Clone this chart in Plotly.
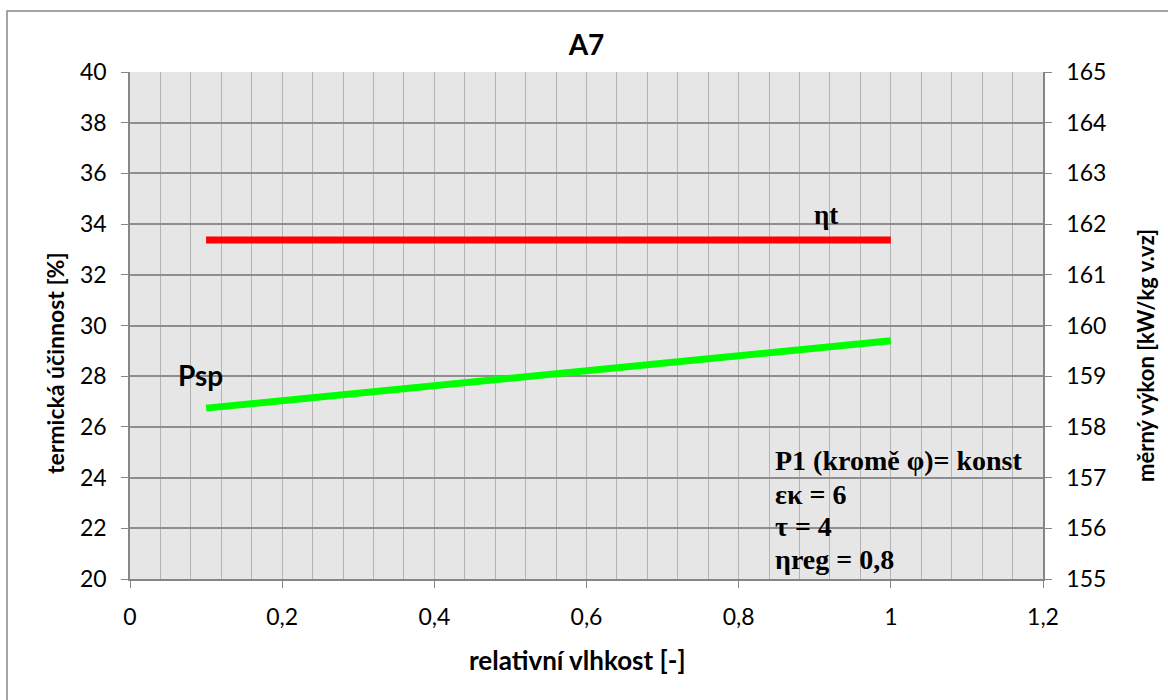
import plotly.graph_objects as go

# Data
phi = [0.1, 0.2, 0.3, 0.4, 0.5, 0.6, 0.7, 0.8, 0.9, 1.0]
eta_t = [33.37, 33.37, 33.37, 33.37, 33.37, 33.37, 33.37, 33.37, 33.37, 33.37]
psp = [158.37, 158.52, 158.67, 158.81, 158.96, 159.11, 159.26, 159.41, 159.55, 159.70]

title = "A7"
x_title = "relativní vlhkost [-]"
y1_title = "termická účinnost [%]"
y2_title = "měrný výkon [kW/kg v.vz]"
info_lines = ["P1 (kromě φ)= konst", "εκ = 6", "τ = 4", "ηreg = 0,8"]

W, H = 1168, 700
ml, mr, mt, mb = 130, 125, 72, 121
pw, ph = W - ml - mr, H - mt - mb


def px(x):
    return (x - ml) / pw


def py(y):
    return (H - mb - y) / ph


fig = go.Figure()
fig.add_trace(go.Scatter(x=phi, y=eta_t, mode="lines", line=dict(color="#ff0000", width=7),
                         name="ηt", yaxis="y"))
fig.add_trace(go.Scatter(x=phi, y=psp, mode="lines", line=dict(color="#00ff00", width=7),
                         name="Psp", yaxis="y2"))

axis_col = "#868686"
sans = "Lato, Calibri, sans-serif"
serif = "Liberation Serif, Times New Roman, serif"
tickfont = dict(family=sans, size=23, color="black")

fig.update_layout(
    width=W, height=H,
    margin=dict(l=ml, r=mr, t=mt, b=mb),
    paper_bgcolor="white",
    plot_bgcolor="#e6e6e6",
    showlegend=False,
    separators=", ",
    title=dict(text="<b>" + title + "</b>", x=(ml + pw / 2) / W, xanchor="center",
               y=1 - 45 / H, yanchor="middle",
               font=dict(family=sans, size=28, color="black")),
    xaxis=dict(range=[0, 1.2], dtick=0.2, tick0=0, showgrid=True, gridcolor="#b3b3b3", gridwidth=1,
               minor=dict(dtick=0.04, showgrid=True, gridcolor="#b3b3b3", gridwidth=1),
               ticks="outside", ticklen=7, tickcolor=axis_col, showline=True, linecolor=axis_col,
               linewidth=1.5, zeroline=False, tickfont=tickfont, ticklabelstandoff=10, fixedrange=True),
    yaxis=dict(range=[20, 40], dtick=2, tick0=20, showgrid=True, gridcolor="#8e8e8e", gridwidth=1.5,
               ticks="outside", ticklen=7, tickcolor=axis_col, showline=True, linecolor=axis_col,
               linewidth=1.5, zeroline=False, tickfont=tickfont, ticklabelstandoff=10),
    yaxis2=dict(range=[155, 165], dtick=1, tick0=155, overlaying="y", side="right", showgrid=False,
                ticks="outside", ticklen=7, tickcolor=axis_col, showline=True, linecolor=axis_col,
                linewidth=1.5, zeroline=False, tickfont=tickfont, ticklabelstandoff=10),
)

# axis titles
fig.add_annotation(x=px(577), y=py(660), xref="paper", yref="paper", text="<b>" + x_title + "</b>",
                   showarrow=False, xanchor="center", yanchor="middle",
                   font=dict(family=sans, size=26, color="black"))
fig.add_annotation(x=px(55), y=py(363), xref="paper", yref="paper", text="<b>" + y1_title + "</b>",
                   showarrow=False, xanchor="center", yanchor="middle", textangle=-90,
                   font=dict(family=sans, size=23, color="black"))
fig.add_annotation(x=px(1145), y=py(356), xref="paper", yref="paper", text="<b>" + y2_title + "</b>",
                   showarrow=False, xanchor="center", yanchor="middle", textangle=-90,
                   font=dict(family=sans, size=22, color="black"))

fig.add_annotation(x=0.915, y=34.36, xref="x", yref="y", text="<b>ηt</b>", showarrow=False,
                   font=dict(family=serif, size=27, color="black"))
fig.add_annotation(x=0.092, y=28.05, xref="x", yref="y", text="<b>Psp</b>", showarrow=False,
                   font=dict(family=sans, size=28, color="black"))

line_y = [24.69, 23.35, 22.09, 20.75]
for t, yy in zip(info_lines, line_y):
    fig.add_annotation(x=0.845, y=yy, xref="x", yref="y", text="<b>" + t + "</b>", showarrow=False,
                       xanchor="left", yanchor="middle", font=dict(family=serif, size=28, color="black"))

# outer chart border
fig.add_shape(type="rect", xref="paper", yref="paper",
              x0=px(7), x1=px(1175), y0=py(710), y1=py(11),
              line=dict(color="#868686", width=1.5), fillcolor="rgba(0,0,0,0)", layer="below")

fig.write_html("out.html")
